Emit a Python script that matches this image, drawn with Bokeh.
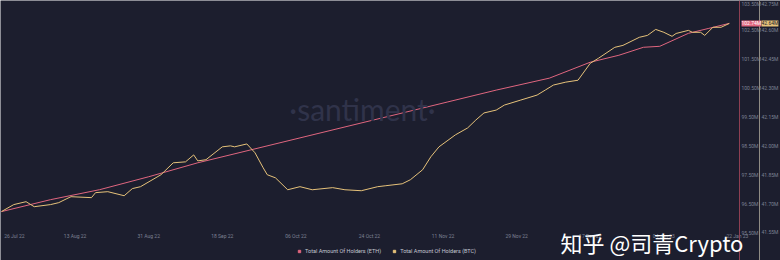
import pandas as pd
from bokeh.plotting import figure
from bokeh.models import (Range1d, LinearAxis, FixedTicker, PrintfTickFormatter,
                          DatetimeTickFormatter, Legend, LegendItem, Label)
from bokeh.embed import file_html
from bokeh.resources import INLINE

# ---------------- data (millions of holders) ----------------
btc_dates = [
    "2022-07-26", "2022-07-29", "2022-08-01", "2022-08-03", "2022-08-07", "2022-08-09", "2022-08-11", "2022-08-12", "2022-08-17", "2022-08-18",
    "2022-08-21", "2022-08-25", "2022-08-27", "2022-08-29", "2022-09-03", "2022-09-06", "2022-09-09", "2022-09-11", "2022-09-12", "2022-09-14",
    "2022-09-18", "2022-09-20", "2022-09-21", "2022-09-24", "2022-09-26", "2022-09-28", "2022-09-29", "2022-10-01", "2022-10-04", "2022-10-07",
    "2022-10-10", "2022-10-15", "2022-10-18", "2022-10-22", "2022-10-26", "2022-10-28", "2022-11-01", "2022-11-03", "2022-11-06", "2022-11-08",
    "2022-11-10", "2022-11-14", "2022-11-17", "2022-11-19", "2022-11-21", "2022-11-24", "2022-11-26", "2022-11-30", "2022-12-04", "2022-12-06",
    "2022-12-08", "2022-12-11", "2022-12-14", "2022-12-17", "2022-12-19", "2022-12-23", "2022-12-25", "2022-12-29", "2022-12-31", "2023-01-02",
    "2023-01-04", "2023-01-06", "2023-01-07", "2023-01-10", "2023-01-11", "2023-01-13", "2023-01-14", "2023-01-16", "2023-01-18", "2023-01-20",
]
btc_holders_m = [
    41.659, 41.695, 41.710, 41.684, 41.695, 41.705, 41.726, 41.736, 41.731, 41.757,
    41.762, 41.741, 41.778, 41.788, 41.850, 41.912, 41.917, 41.953, 41.922, 41.928,
    41.995, 42.000, 41.995, 42.010, 41.964, 41.886, 41.850, 41.834, 41.772, 41.788,
    41.772, 41.783, 41.772, 41.767, 41.788, 41.793, 41.803, 41.824, 41.876, 41.943,
    41.995, 42.057, 42.093, 42.134, 42.171, 42.186, 42.212, 42.238, 42.264, 42.290,
    42.316, 42.331, 42.341, 42.429, 42.455, 42.512, 42.522, 42.564, 42.574, 42.605,
    42.590, 42.569, 42.584, 42.600, 42.590, 42.590, 42.574, 42.616, 42.616, 42.636,
]
eth_dates = [
    "2022-07-26", "2022-08-07", "2022-08-19", "2022-08-31", "2022-09-12", "2022-09-25", "2022-10-07", "2022-10-19", "2022-10-31", "2022-11-12",
    "2022-11-24", "2022-12-07", "2022-12-17", "2022-12-24", "2022-12-30", "2023-01-03", "2023-01-10", "2023-01-15", "2023-01-20",
]
eth_holders_m = [
    96.224, 96.638, 96.983, 97.431, 97.914, 98.362, 98.776, 99.190, 99.603, 100.017,
    100.431, 100.845, 101.397, 101.638, 101.914, 101.948, 102.397, 102.569, 102.741,
]
x_tick_dates = ["2022-07-26", "2022-08-13", "2022-08-31", "2022-09-18", "2022-10-06", "2022-10-24",
                "2022-11-11", "2022-11-29", "2022-12-17", "2023-01-04", "2023-01-22"]
eth_ticks_m = [95.5, 96.5, 97.5, 98.5, 99.5, 100.5, 101.5, 102.5, 103.5]
btc_ticks_m = [41.55, 41.70, 41.85, 42.00, 42.15, 42.30, 42.45, 42.60, 42.75]
series_names = ["Total Amount Of Holders (ETH)", "Total Amount Of Holders (BTC)"]
eth_color = "#e0667f"
btc_color = "#e6c27a"
bg = "#1c1e2e"

def ms(ts):
    return pd.Timestamp(ts).value / 1e6

eth_x = pd.to_datetime(eth_dates)
btc_x = pd.to_datetime(btc_dates)
tick_ms = [pd.Timestamp(d).value // 10**6 for d in x_tick_dates]

# where the axes sit (inside the frame, santiment style)
x_axis_base_eth = 95.535
eth_axis_at = ms("2023-01-22 12:00")
btc_axis_at = ms("2023-01-27 09:30")

p = figure(width=780, height=260, x_axis_type="datetime", y_axis_location="right",
           output_backend="svg", toolbar_location=None,
           x_range=Range1d(pd.Timestamp("2022-07-25 18:00"), pd.Timestamp("2023-02-01 12:45")),
           y_range=Range1d(94.5307, 103.534),
           min_border_left=0, min_border_top=0, min_border_right=0, min_border_bottom=0)
p.extra_y_ranges = {"btc": Range1d(41.4045, 42.7552)}
p.background_fill_color = bg
p.border_fill_color = bg
p.outline_line_color = None
p.grid.visible = False

# x axis
xa = p.xaxis[0]
xa.fixed_location = x_axis_base_eth
xa.ticker = FixedTicker(ticks=tick_ms)
xa.formatter = DatetimeTickFormatter(days="%d %b %y", months="%d %b %y", years="%d %b %y", hours="%d %b %y")
xa.major_label_overrides = {tick_ms[0]: "\u00a0" * 3 + "26 Jul 22"}
xa.axis_line_color = None
xa.major_tick_line_color = None
xa.minor_tick_line_color = None
xa.major_tick_out = 0
xa.major_tick_in = 0
xa.major_label_standoff = 2
xa.major_label_text_font_size = "5px"
xa.major_label_text_color = "#7d8193"
xa.major_label_text_font = "Roboto"

def style_y(ax, line_color):
    ax.axis_line_color = line_color
    ax.axis_line_width = 1
    ax.major_tick_line_color = None
    ax.minor_tick_line_color = None
    ax.major_tick_out = 0
    ax.major_tick_in = 0
    ax.major_label_standoff = 2
    ax.major_label_text_font_size = "5px"
    ax.major_label_text_color = "#7d8193"
    ax.major_label_text_font = "Roboto"
    ax.formatter = PrintfTickFormatter(format="%.2fM")

ya = p.yaxis[0]
ya.ticker = FixedTicker(ticks=eth_ticks_m)
ya.fixed_location = eth_axis_at
style_y(ya, "#8e3f52")
yb = LinearAxis(y_range_name="btc", ticker=FixedTicker(ticks=btc_ticks_m), fixed_location=btc_axis_at)
style_y(yb, "#8f8c84")
p.add_layout(yb, "right")

# watermark
p.add_layout(Label(x=362, y=152, x_units="screen", y_units="screen", text="·santiment·",
                   text_align="center", text_baseline="middle", text_font="Lato",
                   text_font_size="30px", text_color="#30334a"))

# series
r_eth = p.line(eth_x, eth_holders_m, color=eth_color, line_width=1)
r_btc = p.line(btc_x, btc_holders_m, color=btc_color, line_width=1, y_range_name="btc")
k_eth = p.scatter(eth_x[-1:], eth_holders_m[-1:], marker="square", size=0, color=eth_color)
k_btc = p.scatter(btc_x[-1:], btc_holders_m[-1:], marker="square", size=0, color=btc_color, y_range_name="btc")

legend = Legend(items=[LegendItem(label=series_names[0], renderers=[k_eth]),
                       LegendItem(label=series_names[1], renderers=[k_btc])],
                orientation="horizontal", location=(294, 4),
                label_text_font_size="5.5px", label_text_color="#c3c6d0", label_text_font="Roboto",
                glyph_width=6, glyph_height=6, label_height=6, label_standoff=3, spacing=10,
                padding=2, margin=0, background_fill_alpha=0, border_line_alpha=0)
p.add_layout(legend)

# last-value markers on the axes
p.add_layout(Label(x=741, y=eth_holders_m[-1], x_units="screen", y_units="data",
                   text="%.2fM" % eth_holders_m[-1], text_font_size="5px", text_font="Roboto",
                   text_color="#ffffff", text_baseline="middle", background_fill_color=eth_color))
p.add_layout(Label(x=761, y=eth_holders_m[-1], x_units="screen", y_units="data",
                   text="%.2fM" % btc_holders_m[-1], text_font_size="5px", text_font="Roboto",
                   text_color="#1c1e2e", text_baseline="middle", background_fill_color=btc_color))

# overlaid Zhihu watermark
p.add_layout(Label(x=560, y=19, x_units="screen", y_units="screen", text="知乎  @司青Crypto",
                   text_font="Noto Sans CJK SC", text_font_size="22px", text_color="#ffffff",
                   text_baseline="middle"))

open("out.html", "w").write(file_html(p, INLINE))
